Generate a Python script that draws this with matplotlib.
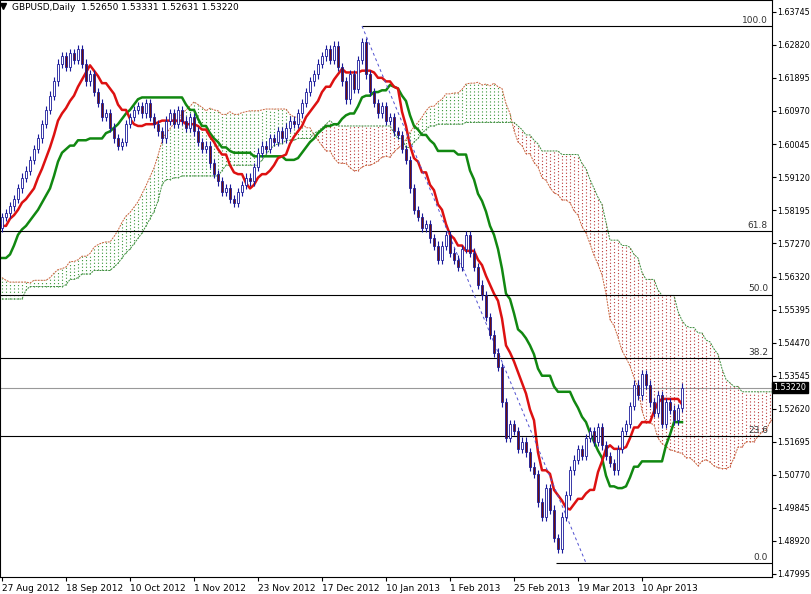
import matplotlib
matplotlib.use("Agg")
import matplotlib.pyplot as plt
import numpy as np

hidden_closes = [
1.5550,1.5580,1.5520,1.5490,1.5450,1.5420,1.5470,1.5500,1.5530,1.5560,
1.5590,1.5620,1.5600,1.5640,1.5680,1.5650,1.5610,1.5580,1.5620,1.5660,
1.5690,1.5720,1.5700,1.5660,1.5630,1.5600,1.5580,1.5540,1.5510,1.5490,
1.5530,1.5560,1.5600,1.5630,1.5610,1.5580,1.5550,1.5520,1.5490,1.5510,
1.5550,1.5580,1.5610,1.5640,1.5670,1.5650,1.5620,1.5660,1.5690,1.5710,
1.5680,1.5640,1.5610,1.5580,1.5560,1.5590,1.5620,1.5650,1.5680,1.5700,
1.5720,1.5690,1.5660,1.5640,1.5620,1.5650,1.5680,1.5710,1.5730,1.5760,
1.5740,1.5770,1.5790,1.5760,1.5780,1.5810,1.5790,1.5770]

closes = [
1.5800,1.5810,1.5830,1.5850,1.5880,1.5910,1.5930,1.5960,1.5990,1.6020,
1.6060,1.6100,1.6140,1.6180,1.6230,1.6250,1.6220,1.6260,1.6240,1.6270,
1.6230,1.6180,1.6200,1.6150,1.6120,1.6080,1.6090,1.6050,1.6020,1.6000,
1.6010,1.6060,1.6080,1.6100,1.6110,1.6090,1.6120,1.6080,1.6060,1.6040,
1.6020,1.6070,1.6090,1.6060,1.6100,1.6070,1.6050,1.6080,1.6040,1.6010,
1.5990,1.6000,1.5950,1.5920,1.5900,1.5870,1.5880,1.5850,1.5840,1.5870,
1.5890,1.5910,1.5900,1.5940,1.5980,1.6000,1.5990,1.6020,1.6010,1.6040,
1.6020,1.6050,1.6070,1.6060,1.6090,1.6120,1.6150,1.6180,1.6200,1.6230,
1.6250,1.6270,1.6240,1.6280,1.6220,1.6180,1.6130,1.6200,1.6160,1.6240,
1.6290,1.6200,1.6150,1.6120,1.6090,1.6110,1.6070,1.6080,1.6040,1.6030,
1.5990,1.5960,1.5880,1.5820,1.5800,1.5770,1.5780,1.5740,1.5720,1.5680,
1.5720,1.5750,1.5700,1.5680,1.5660,1.5710,1.5750,1.5700,1.5660,1.5610,
1.5580,1.5520,1.5470,1.5420,1.5380,1.5280,1.5180,1.5220,1.5200,1.5150,
1.5170,1.5140,1.5100,1.5080,1.5000,1.4960,1.5040,1.4980,1.4900,1.4870,
1.4960,1.5020,1.5090,1.5120,1.5150,1.5130,1.5180,1.5200,1.5170,1.5210,
1.5160,1.5130,1.5110,1.5090,1.5150,1.5200,1.5220,1.5270,1.5330,1.5300,
1.5360,1.5330,1.5280,1.5250,1.5300,1.5220,1.5280,1.5260,1.5230,1.5265,
1.5322]

date_labels = ["27 Aug 2012","18 Sep 2012","10 Oct 2012","1 Nov 2012","23 Nov 2012",
               "17 Dec 2012","10 Jan 2013","1 Feb 2013","25 Feb 2013","19 Mar 2013","10 Apr 2013"]
price_ticks = [1.63745,1.62820,1.61895,1.60970,1.60045,1.59120,1.58195,1.57270,1.56320,
               1.55395,1.54470,1.53545,1.52620,1.51695,1.50770,1.49845,1.48920,1.47995]
fib_levels = [100.0, 61.8, 50.0, 38.2, 23.6, 0.0]
fib_high, fib_low = 1.6335, 1.4830
current_price = 1.53220

H = len(hidden_closes)
allc = np.array(hidden_closes + closes)
opens = np.concatenate([[allc[0]], allc[:-1]])
wick = 0.0012
highs = np.maximum(opens, allc) + wick
lows = np.minimum(opens, allc) - wick
idx = np.arange(len(allc)) - H

def mid(n):
    out = np.full(len(allc), np.nan)
    for k in range(n - 1, len(allc)):
        out[k] = (highs[k-n+1:k+1].max() + lows[k-n+1:k+1].min()) / 2
    return out

tenkan = mid(9)
kijun = mid(26)
spanA = (tenkan + kijun) / 2
spanB = mid(52)
cx = idx + 26

fig = plt.figure(figsize=(8.12, 5.94), dpi=100)
ax = fig.add_axes([0, 17/594, 772/812, 577/594])
ymin, ymax = 1.47909, 1.64081
ax.set_ylim(ymin, ymax)
ax.set_xlim(-0.5, 192.5)

red_c = "#b22222"
grn_c = "#228b22"
for x, a, b in zip(cx, spanA, spanB):
    if np.isnan(a) or np.isnan(b) or x < -1 or x > 194:
        continue
    col = red_c if b > a else grn_c
    ax.vlines(x, min(a, b), max(a, b), colors=col, linestyles=(0, (1, 2)), lw=0.8, alpha=0.9)
m = (cx >= -1)
ax.plot(cx[m], spanA[m], color="#c8623a", lw=0.7, ls=(0, (2, 1)))
ax.plot(cx[m], spanB[m], color="#3c8c3c", lw=0.7, ls=(0, (2, 1)))

vis = idx >= 0
ax.plot(idx[vis], kijun[vis], color="#118811", lw=1.8)
ax.plot(idx[vis], tenkan[vis], color="#dd1111", lw=1.8)

for i in np.where(vis)[0]:
    x = idx[i]
    ax.vlines(x, lows[i], highs[i], color="#1a1a9a", lw=0.8, zorder=3)
    o, c = opens[i], allc[i]
    up = c >= o
    ax.bar(x, max(abs(c - o), 0.0002), bottom=min(o, c), width=0.6,
           color="white" if up else "#6b0f0f", edgecolor="#1a1a9a", lw=0.6, zorder=4)

rng = fib_high - fib_low
for lv in fib_levels:
    p = fib_low + rng * lv / 100
    x0 = 90 if lv == 100.0 else (138.5 if lv == 0.0 else -0.5)
    ax.hlines(p, x0, 192.5, color="black", lw=0.8, zorder=2)
    ax.text(191.5, p + 0.0004, f"{lv:.1f}", ha="right", va="bottom", fontsize=6.5, color="#333333")
ax.plot([90, 146], [fib_high, fib_low], color="#5050d0", lw=0.7, ls=(0, (3, 3)))
ax.axhline(current_price, color="#999999", lw=0.8, zorder=1)

ax.yaxis.tick_right()
ax.set_yticks(price_ticks)
ax.set_yticklabels([f"{t:.5f}" for t in price_ticks], fontsize=5.8)
ax.tick_params(axis="y", length=3, pad=1)
ax.set_xticks(np.arange(len(date_labels)) * 16)
ax.set_xticklabels(date_labels, fontsize=6.5, ha="left")
ax.tick_params(axis="x", length=3, pad=2)
for s in ax.spines.values():
    s.set_linewidth(0.8)
ax.text(1.002, (current_price - ymin) / (ymax - ymin), "1.53220", transform=ax.transAxes,
        fontsize=5.8, color="white", va="center", ha="left",
        bbox=dict(boxstyle="square,pad=0.15", fc="black", ec="black"))
ax.text(0.015, 0.995, "GBPUSD,Daily  1.52650 1.53331 1.52631 1.53220", transform=ax.transAxes,
        fontsize=6.5, va="top", ha="left")
ax.plot([0.004], [0.99], marker="v", color="black", ms=4, transform=ax.transAxes)

fig.savefig("out.png", dpi=100)
